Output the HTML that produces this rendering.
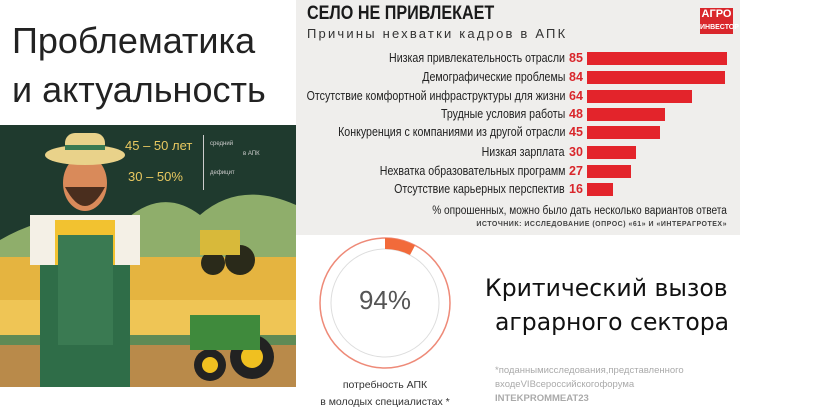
<!DOCTYPE html>
<html><head><meta charset="utf-8"><style>
body{margin:0;width:816px;height:415px;background:#fff;position:relative;overflow:hidden;font-family:"Liberation Sans",sans-serif}
.a{position:absolute;white-space:nowrap}
.lbl{position:absolute;right:251px;font-size:12.5px;color:#222;transform:scaleX(.85);transform-origin:right center}
.num{position:absolute;left:569px;font-size:12.5px;font-weight:bold;color:#d9262b}
.bar{position:absolute;left:587px;height:13px;background:#e3242b}
</style></head><body>
<div class="a" style="left:12px;top:16px;font-size:36px;color:#222;line-height:49px">Проблематика<br>и актуальность</div>

<div class="a" style="left:296px;top:0;width:444px;height:235px;background:#efeeec"></div>
<div class="a" style="left:307px;top:3px;font-size:19px;font-weight:bold;color:#1a1a1a;transform:scaleX(.85);transform-origin:left">СЕЛО НЕ ПРИВЛЕКАЕТ</div>
<div class="a" style="left:307px;top:26px;font-size:13px;color:#333;letter-spacing:2.2px">Причины нехватки кадров в АПК</div>
<div class="a" style="left:700px;top:8px;width:33px;height:26px;background:#d9262b;color:#fff;font-size:11px;font-weight:bold;text-align:center;line-height:12px">АГРО<br><span style="font-size:7px">ИНВЕСТОР</span></div>

<div class="lbl" style="top:51px">Низкая привлекательность отрасли</div><div class="num" style="top:51px">85</div><div class="bar" style="top:52px;width:140px"></div>
<div class="lbl" style="top:70px">Демографические проблемы</div><div class="num" style="top:70px">84</div><div class="bar" style="top:71px;width:138px"></div>
<div class="lbl" style="top:89px">Отсутствие комфортной инфраструктуры для жизни</div><div class="num" style="top:89px">64</div><div class="bar" style="top:90px;width:105px"></div>
<div class="lbl" style="top:107px">Трудные условия работы</div><div class="num" style="top:107px">48</div><div class="bar" style="top:108px;width:78px"></div>
<div class="lbl" style="top:125px">Конкуренция с компаниями из другой отрасли</div><div class="num" style="top:125px">45</div><div class="bar" style="top:126px;width:73px"></div>
<div class="lbl" style="top:145px">Низкая зарплата</div><div class="num" style="top:145px">30</div><div class="bar" style="top:146px;width:49px"></div>
<div class="lbl" style="top:164px">Нехватка образовательных программ</div><div class="num" style="top:164px">27</div><div class="bar" style="top:165px;width:44px"></div>
<div class="lbl" style="top:182px">Отсутствие карьерных перспектив</div><div class="num" style="top:182px">16</div><div class="bar" style="top:183px;width:26px"></div>
<div class="a" style="right:89px;top:205px;font-size:11.5px;color:#222;transform:scaleX(.88);transform-origin:right">% опрошенных, можно было дать несколько вариантов ответа</div>
<div class="a" style="right:89px;top:221px;font-size:7px;font-weight:bold;color:#444;letter-spacing:.5px">ИСТОЧНИК: ИССЛЕДОВАНИЕ (ОПРОС) «61» И «ИНТЕРАГРОТЕХ»</div>

<svg class="a" style="left:0;top:125px" width="296" height="262" viewBox="0 0 296 262">
<rect width="296" height="262" fill="#1f3a2e"/>
<path d="M0 115 Q60 80 120 100 Q160 60 200 90 Q240 55 296 80 L296 150 L0 150Z" fill="#8fae6b"/>
<rect y="132" width="296" height="70" fill="#e5b440"/>
<rect y="175" width="296" height="40" fill="#efc555"/>
<rect y="215" width="296" height="47" fill="#b98a4a"/>
<rect y="210" width="296" height="10" fill="#5f8a55"/>
<circle cx="213" cy="138" r="12" fill="#2a2a1a"/><circle cx="240" cy="135" r="15" fill="#2a2a1a"/><rect x="200" y="105" width="40" height="25" fill="#d8b93a"/>
<circle cx="210" cy="240" r="16" fill="#222"/><circle cx="210" cy="240" r="8" fill="#f0c020"/><circle cx="252" cy="232" r="22" fill="#222"/><circle cx="252" cy="232" r="11" fill="#f0c020"/><rect x="190" y="190" width="70" height="35" fill="#3f8a3c"/>
<rect x="40" y="130" width="90" height="132" fill="#2f6d48"/>
<rect x="30" y="90" width="110" height="50" fill="#f4f0e6"/>
<rect x="55" y="95" width="60" height="45" fill="#f2c230"/>
<rect x="58" y="110" width="55" height="110" fill="#3a7a52"/>
<ellipse cx="85" cy="58" rx="22" ry="28" fill="#d98a5a"/>
<path d="M65 62 Q85 100 105 62Z" fill="#4a2e1e"/>
<ellipse cx="85" cy="30" rx="40" ry="10" fill="#e9d28a"/><rect x="65" y="8" width="40" height="22" rx="10" fill="#e9d28a"/><rect x="65" y="20" width="40" height="5" fill="#3a7a52"/>
<text x="125" y="25" font-size="13" fill="#e8c860" font-family="Liberation Sans">45 – 50 лет</text>
<text x="128" y="56" font-size="13" fill="#e8c860" font-family="Liberation Sans">30 – 50%</text>
<rect x="203" y="10" width="1" height="55" fill="#ccc"/>
<text x="210" y="20" font-size="6" fill="#ccc" font-family="Liberation Sans">средний</text><text x="243" y="30" font-size="6" fill="#ccc" font-family="Liberation Sans">в АПК</text>
<text x="210" y="49" font-size="6" fill="#ccc" font-family="Liberation Sans">дефицит</text>
</svg>

<svg class="a" style="left:318px;top:236px" width="134" height="134">
<circle cx="67" cy="67" r="65" fill="none" stroke="#ee8a78" stroke-width="1.5"/>
<circle cx="67" cy="67" r="54" fill="none" stroke="#ddd" stroke-width="1"/>
<path d="M67 2 A65 65 0 0 1 97 9.5 L92 19 A54 54 0 0 0 67 13Z" fill="#f26a3a"/>
</svg>
<div class="a" style="left:318px;top:285px;width:134px;text-align:center;font-size:26px;color:#555">94%</div>
<div class="a" style="left:300px;top:377px;width:170px;text-align:center;font-size:10.5px;color:#333;line-height:17px">потребность АПК<br>в молодых специалистах *</div>

<div class="a" style="left:485px;top:274px;font-size:24px;color:#111;font-family:'DejaVu Sans',sans-serif;transform:scaleX(.98);transform-origin:left">Критический вызов</div>
<div class="a" style="left:495px;top:308px;font-size:24px;color:#111;font-family:'DejaVu Sans',sans-serif;transform:scaleX(.98);transform-origin:left">аграрного сектора</div>
<div class="a" style="left:495px;top:364px;font-size:9.5px;color:#aaa;line-height:14px">*поданнымисследования,представленного<br>входеVIВсероссийскогофорума<br><b>INTEKPROMMEAT23</b></div>
</body></html>
